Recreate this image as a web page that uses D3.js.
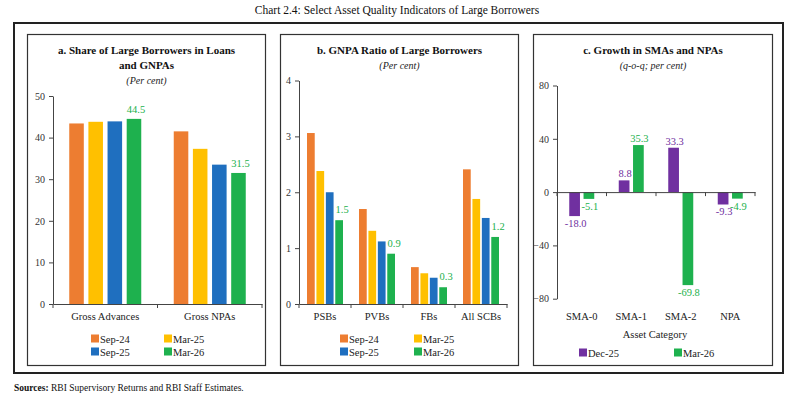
<!DOCTYPE html>
<html>
<head>
<meta charset="utf-8">
<script src="https://cdn.jsdelivr.net/npm/d3@7"></script>
<style>
  body { margin: 0; background: #fff; }
  svg { display: block; }
  .tick text { font-family: "Liberation Serif", serif; font-size: 10px; fill: #333; }
  .axis path, .axis line { stroke: #444; }
</style>
</head>
<body>
<svg id="chart"></svg>
<script>
// --- data ---
var seriesAB = ["Sep-24", "Mar-25", "Sep-25", "Mar-26"];
var colorsAB = ["#ED7D31", "#FFC000", "#1F6FBF", "#1EB14E"];

var catsA = ["Gross Advances", "Gross NPAs"];
var shareSep24 = [43.4, 41.5];
var shareMar25 = [43.8, 37.3];
var shareSep25 = [43.9, 33.5];
var shareMar26 = [44.5, 31.5];
var ticksA = [0, 10, 20, 30, 40, 50];

var catsB = ["PSBs", "PVBs", "FBs", "All SCBs"];
var gnpaSep24 = [3.06, 1.70, 0.66, 2.41];
var gnpaMar25 = [2.38, 1.31, 0.55, 1.88];
var gnpaSep25 = [2.00, 1.12, 0.47, 1.54];
var gnpaMar26 = [1.5, 0.9, 0.3, 1.2];
var ticksB = [0, 1, 2, 3, 4];

var seriesC = ["Dec-25", "Mar-26"];
var colorsC = ["#7030A0", "#1EB14E"];
var catsC = ["SMA-0", "SMA-1", "SMA-2", "NPA"];
var growthDec25 = [-18.0, 8.8, 33.3, -9.3];
var growthMar26 = [-5.1, 35.3, -69.8, -4.9];
var ticksC = [-80, -40, 0, 40, 80];

var W = 794, H = 396;
var serif = '"Liberation Serif", "DejaVu Serif", serif';
var labelGreen = "#22B14C";

var svg = d3.select("#chart").attr("width", W).attr("height", H);

svg.append("text")
    .attr("x", 397).attr("y", 14)
    .attr("text-anchor", "middle")
    .attr("font-family", serif).attr("font-size", 11.5)
    .attr("fill", "#111")
    .text("Chart 2.4: Select Asset Quality Indicators of Large Borrowers");

svg.append("rect")
    .attr("x", 14).attr("y", 23).attr("width", 769).attr("height", 350)
    .attr("fill", "none").attr("stroke", "#222").attr("stroke-width", 2);

var src = svg.append("text")
    .attr("x", 14).attr("y", 391)
    .attr("font-family", serif).attr("font-size", 9.5).attr("fill", "#111");
src.append("tspan").attr("font-weight", "bold").text("Sources:");
src.append("tspan").text(" RBI Supervisory Returns and RBI Staff Estimates.");

// draws one framed panel with grouped bars
function drawPanel(p) {
    var g = svg.append("g");

    g.append("rect")
        .attr("x", p.box[0]).attr("y", 34.5).attr("width", p.box[1]).attr("height", 331)
        .attr("fill", "none").attr("stroke", "#333").attr("stroke-width", 1.2);

    var cx = p.box[0] + p.box[1] / 2;
    p.title.forEach(function(t, i) {
        g.append("text")
            .attr("x", cx).attr("y", 54 + i * 15)
            .attr("text-anchor", "middle")
            .attr("font-family", serif).attr("font-weight", "bold").attr("font-size", 11)
            .attr("fill", "#111")
            .text(t);
    });
    g.append("text")
        .attr("x", cx).attr("y", p.unitY)
        .attr("text-anchor", "middle")
        .attr("font-family", serif).attr("font-style", "italic").attr("font-size", 10)
        .attr("fill", "#222")
        .text(p.unit);

    var y = d3.scaleLinear().domain(p.yDomain).range(p.yRange);
    var x0 = d3.scaleBand().domain(p.cats).range(p.xRange);
    var x1 = d3.scaleBand().domain(p.series).range([0, p.span]).paddingInner(p.pad);
    var off = (x0.bandwidth() - p.span) / 2;

    // bars
    p.series.forEach(function(s, si) {
        g.selectAll(null)
            .data(p.values[si])
            .enter().append("rect")
            .attr("x", function(d, i) { return x0(p.cats[i]) + off + x1(s); })
            .attr("y", function(d) { return y(Math.max(0, d)); })
            .attr("width", x1.bandwidth())
            .attr("height", function(d) { return Math.abs(y(d) - y(0)); })
            .attr("fill", p.colors[si]);
    });

    // value labels
    p.labelled.forEach(function(si) {
        g.selectAll(null)
            .data(p.values[si])
            .enter().append("text")
            .attr("x", function(d, i) { return x0(p.cats[i]) + off + x1(p.series[si]) + x1.bandwidth() / 2 + p.labelDx; })
            .attr("y", function(d) { return d >= 0 ? y(d) - p.labelUp : y(d) + 11; })
            .attr("text-anchor", "middle")
            .attr("font-family", serif).attr("font-size", 10.5)
            .attr("fill", p.labelColors[si])
            .text(function(d) { return d.toFixed(1); });
    });

    // axes
    g.append("g")
        .attr("class", "axis")
        .attr("transform", "translate(" + p.xRange[0] + ",0)")
        .call(d3.axisLeft(y).tickValues(p.ticks).tickFormat(d3.format("d"))
            .tickSize(4).tickPadding(4).tickSizeOuter(0));

    var xa = g.append("g")
        .attr("class", "axis")
        .attr("transform", "translate(0," + y(0) + ")")
        .call(d3.axisBottom(x0).tickSize(0).tickFormat(""));
    xa.selectAll(".tick").remove();
    xa.selectAll(null)
        .data(d3.range(p.cats.length + 1))
        .enter().append("line")
        .attr("x1", function(i) { return p.xRange[0] + i * x0.step(); })
        .attr("x2", function(i) { return p.xRange[0] + i * x0.step(); })
        .attr("y1", 0).attr("y2", 4)
        .attr("stroke", "#444");

    g.selectAll(null)
        .data(p.cats)
        .enter().append("text")
        .attr("x", function(d) { return x0(d) + x0.bandwidth() / 2; })
        .attr("y", 320)
        .attr("text-anchor", "middle")
        .attr("font-family", serif).attr("font-size", 10.5)
        .attr("fill", "#222")
        .text(function(d) { return d; });

    if (p.axisTitle) {
        g.append("text")
            .attr("x", cx + 2).attr("y", 338)
            .attr("text-anchor", "middle")
            .attr("font-family", serif).attr("font-size", 10.5)
            .attr("fill", "#222")
            .text(p.axisTitle);
    }

    // legend
    p.series.forEach(function(s, si) {
        var lx = p.legend[0] + (si % p.legendCols) * p.legend[2];
        var ly = p.legend[1] + Math.floor(si / p.legendCols) * 13;
        g.append("rect")
            .attr("x", lx).attr("y", ly).attr("width", 8).attr("height", 8)
            .attr("fill", p.colors[si]);
        g.append("text")
            .attr("x", lx + 9).attr("y", ly + 8)
            .attr("font-family", serif).attr("font-size", 10.5)
            .attr("fill", "#222")
            .text(s);
    });
}

drawPanel({
    box: [27.5, 238],
    title: ["a. Share of Large Borrowers in Loans", "and GNPAs"],
    unit: "(Per cent)", unitY: 84,
    cats: catsA, series: seriesAB, colors: colorsAB,
    values: [shareSep24, shareMar25, shareSep25, shareMar26],
    labelled: [3], labelColors: [null, null, null, labelGreen],
    labelDx: 2, labelUp: 6,
    yDomain: [0, 50], yRange: [304, 96], ticks: ticksA,
    xRange: [53, 262], span: 72, pad: 0.24,
    legend: [91, 334.5, 73], legendCols: 2
});

drawPanel({
    box: [280.5, 238],
    title: ["b. GNPA Ratio of Large Borrowers"],
    unit: "(Per cent)", unitY: 69,
    cats: catsB, series: seriesAB, colors: colorsAB,
    values: [gnpaSep24, gnpaMar25, gnpaSep25, gnpaMar26],
    labelled: [3], labelColors: [null, null, null, labelGreen],
    labelDx: 3, labelUp: 7,
    yDomain: [0, 4], yRange: [304, 80.5], ticks: ticksB,
    xRange: [299, 507], span: 36, pad: 0.18,
    legend: [340, 334.5, 74], legendCols: 2
});

drawPanel({
    box: [533.5, 239],
    title: ["c. Growth in SMAs and NPAs"],
    unit: "(q-o-q; per cent)", unitY: 69,
    cats: catsC, series: seriesC, colors: colorsC,
    values: [growthDec25, growthMar26],
    labelled: [0, 1], labelColors: ["#7030A0", labelGreen],
    labelDx: 1, labelUp: 3,
    yDomain: [-80, 80], yRange: [298.7, 85.5], ticks: ticksC,
    xRange: [557, 755], span: 25, pad: 0.25,
    axisTitle: "Asset Category",
    legend: [579, 348.5, 95], legendCols: 2
});
</script>
</body>
</html>
